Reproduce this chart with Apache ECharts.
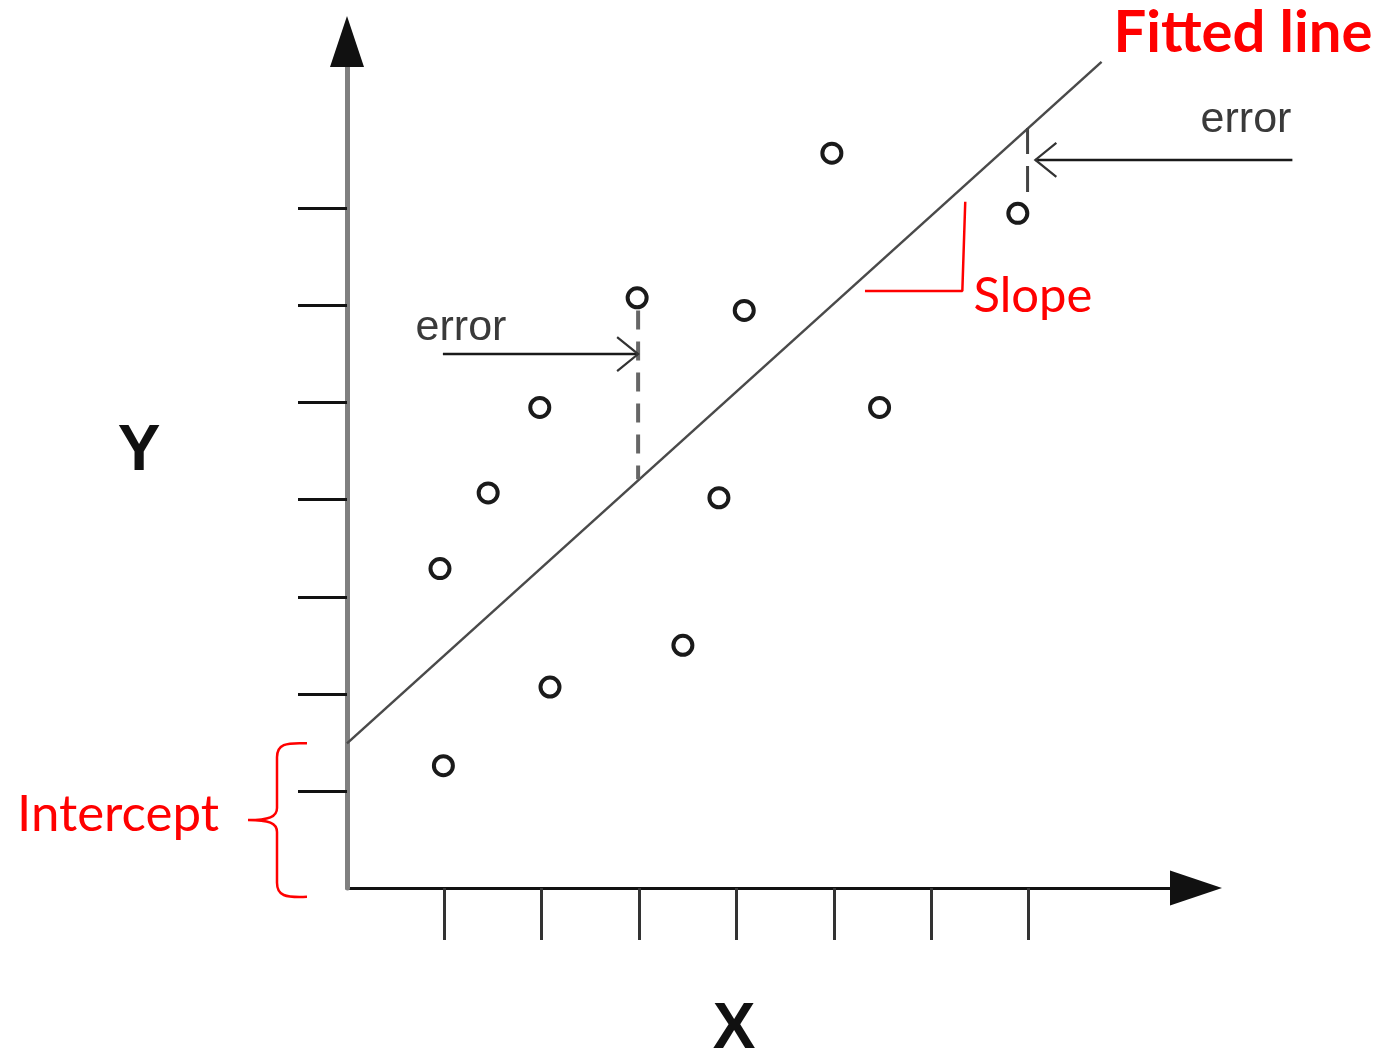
<!DOCTYPE html>
<html>
<head>
<meta charset="utf-8">
<script src="https://cdn.jsdelivr.net/npm/echarts@6/dist/echarts.min.js"></script>
<style>
html,body{margin:0;padding:0;background:#fff;}
#chart{width:1383px;height:1057px;}
</style>
</head>
<body>
<div id="chart"></div>
<script>
// ---- data (in axis units) ----
const pointsX = [4.98, 6.89, 2.98, 4.08, 1.98, 5.47, 1.45, 3.82, 0.955, 3.45, 2.085, 0.99];
const pointsY = [7.57, 6.95, 6.08, 5.95, 4.95, 4.95, 4.07, 4.02, 3.29, 2.50, 2.07, 1.26];
const tickValues = [1, 2, 3, 4, 5, 6, 7];
const axisMax = 8.72;
const fittedLineX = [0, 7.75];
const fittedLineY = [1.49, 8.51];
const slopeX = [5.32, 6.32, 6.35];
const slopeY = [6.15, 6.15, 7.07];
// error arrows: [xStart, xHead, y]
const errorArrows = [[0.985, 2.99, 5.50], [9.71, 7.07, 7.50]];
const errorDashLeftX = [2.99, 2.99];
const errorDashLeftY = [5.95, 4.21];
const errorDashRightX = [6.99, 6.99];
const errorDashRightY = [7.83, 7.17];
// intercept brace: [x, yTop, yBottom]
const interceptBrace = [[0, 1.49, -0.09]];

function zip(a, b) { return a.map((v, i) => [v, b[i]]); }

function renderArrow(params, api) {
  const p0 = api.coord([api.value(0), api.value(2)]);
  const p1 = api.coord([api.value(1), api.value(2)]);
  const dir = p1[0] > p0[0] ? 1 : -1;
  const hl = 21, hh = 17;
  return {
    type: 'group',
    children: [
      { type: 'line', shape: { x1: p0[0], y1: p0[1], x2: p1[0], y2: p1[1] },
        style: { stroke: '#1a1a1a', lineWidth: 2.5 } },
      { type: 'polyline', shape: { points: [[p1[0] - dir * hl, p1[1] - hh], [p1[0], p1[1]], [p1[0] - dir * hl, p1[1] + hh]] },
        style: { stroke: '#333', lineWidth: 2.2, fill: 'none' } }
    ]
  };
}

function renderBrace(params, api) {
  const top = api.coord([api.value(0), api.value(1)]);
  const bot = api.coord([api.value(0), api.value(2)]);
  const xa = top[0];
  const xe = xa - 40, xs = xa - 70, xt = xa - 99;
  const yt = top[1], yb = bot[1], ym = (yt + yb) / 2;
  const d = 'M' + xe + ',' + yt +
    ' C' + (xs + 8) + ',' + (yt - 1) + ' ' + xs + ',' + (yt + 1) + ' ' + xs + ',' + (yt + 14) +
    ' L' + xs + ',' + (ym - 12) +
    ' C' + xs + ',' + (ym - 3) + ' ' + (xs - 8) + ',' + ym + ' ' + xt + ',' + ym +
    ' M' + xt + ',' + ym +
    ' C' + (xs - 8) + ',' + ym + ' ' + xs + ',' + (ym + 3) + ' ' + xs + ',' + (ym + 12) +
    ' L' + xs + ',' + (yb - 14) +
    ' C' + xs + ',' + (yb - 1) + ' ' + (xs + 8) + ',' + (yb + 1) + ' ' + xe + ',' + yb;
  return { type: 'path', shape: { pathData: d }, style: { stroke: '#ff0000', lineWidth: 2.5, fill: 'none' } };
}

const chart = echarts.init(document.getElementById('chart'), null, { renderer: 'canvas' });
const option = {
  animation: false,
  backgroundColor: '#ffffff',
  grid: { left: 347, right: 187, top: 41.5, bottom: 169, containLabel: false, outerBoundsMode: 'none' },
  xAxis: {
    type: 'value', min: 0, max: axisMax, interval: 1,
    splitLine: { show: false }, axisLabel: { show: false },
    axisLine: { show: true, onZero: false, symbol: ['none', 'triangle'], symbolSize: [35, 52],
      lineStyle: { color: '#111111', width: 3 } },
    axisTick: { show: true, customValues: tickValues, length: 52, inside: false,
      lineStyle: { color: '#333333', width: 3 } }
  },
  yAxis: [
    {
      type: 'value', min: 0, max: axisMax, interval: 1, position: 'left', offset: 0, z: 2,
      splitLine: { show: false }, axisLabel: { show: false }, axisTick: { show: false },
      axisLine: { show: true, onZero: false, symbol: ['none', 'triangle'], symbolSize: [34, 51],
        lineStyle: { color: '#111111', width: 0 } }
    },
    {
      type: 'value', min: 0, max: axisMax, interval: 1, position: 'left', offset: 0, z: 1,
      splitLine: { show: false }, axisLabel: { show: false },
      axisLine: { show: true, onZero: false, lineStyle: { color: '#808080', width: 5 } },
      axisTick: { show: true, customValues: tickValues, length: 49, inside: false,
        lineStyle: { color: '#111111', width: 3 } }
    }
  ],
  graphic: [
    { type: 'text', x: 1243, y: 33, style: { text: 'Fitted line', font: 'bold 58px Lato', fill: '#ff0000', align: 'center', verticalAlign: 'middle' } },
    { type: 'text', x: 1033, y: 296, style: { text: 'Slope', font: '49px Lato', fill: '#ff0000', align: 'center', verticalAlign: 'middle' } },
    { type: 'text', x: 118, y: 815, style: { text: 'Intercept', font: '51px Lato', fill: '#ff0000', align: 'center', verticalAlign: 'middle' } },
    { type: 'text', x: 461, y: 328, style: { text: 'error', font: '43px "Liberation Sans"', fill: '#3a3a3a', align: 'center', verticalAlign: 'middle' } },
    { type: 'text', x: 1246, y: 120, style: { text: 'error', font: '43px "Liberation Sans"', fill: '#3a3a3a', align: 'center', verticalAlign: 'middle' } },
    { type: 'text', x: 139, y: 452, style: { text: 'Y', font: 'bold 64px "Liberation Sans"', fill: '#111', align: 'center', verticalAlign: 'middle' } },
    { type: 'text', x: 734, y: 1030, style: { text: 'X', font: 'bold 64px "Liberation Sans"', fill: '#111', align: 'center', verticalAlign: 'middle' } }
  ],
  series: [
    { type: 'line', name: 'fitted', data: zip(fittedLineX, fittedLineY), symbol: 'none', z: 3,
      lineStyle: { color: '#4a4a4a', width: 2.5 } },
    { type: 'line', name: 'slope', data: zip(slopeX, slopeY), symbol: 'none', z: 3,
      lineStyle: { color: '#ff0000', width: 2.5 } },
    { type: 'line', name: 'errL', data: zip(errorDashLeftX, errorDashLeftY), symbol: 'none', z: 3,
      lineStyle: { color: '#666666', width: 4, type: [19, 12] } },
    { type: 'line', name: 'errR', data: zip(errorDashRightX, errorDashRightY), symbol: 'none', z: 3,
      lineStyle: { color: '#444444', width: 3, type: [26, 12] } },
    { type: 'custom', name: 'arrows', data: errorArrows, renderItem: renderArrow, z: 4 },
    { type: 'custom', name: 'brace', data: interceptBrace, renderItem: renderBrace, z: 4 },
    { type: 'scatter', name: 'points', data: zip(pointsX, pointsY), symbol: 'circle', symbolSize: 19, z: 5,
      itemStyle: { color: '#ffffff', borderColor: '#1a1a1a', borderWidth: 4, opacity: 1 } }
  ]
};
chart.setOption(option);
</script>
</body>
</html>
